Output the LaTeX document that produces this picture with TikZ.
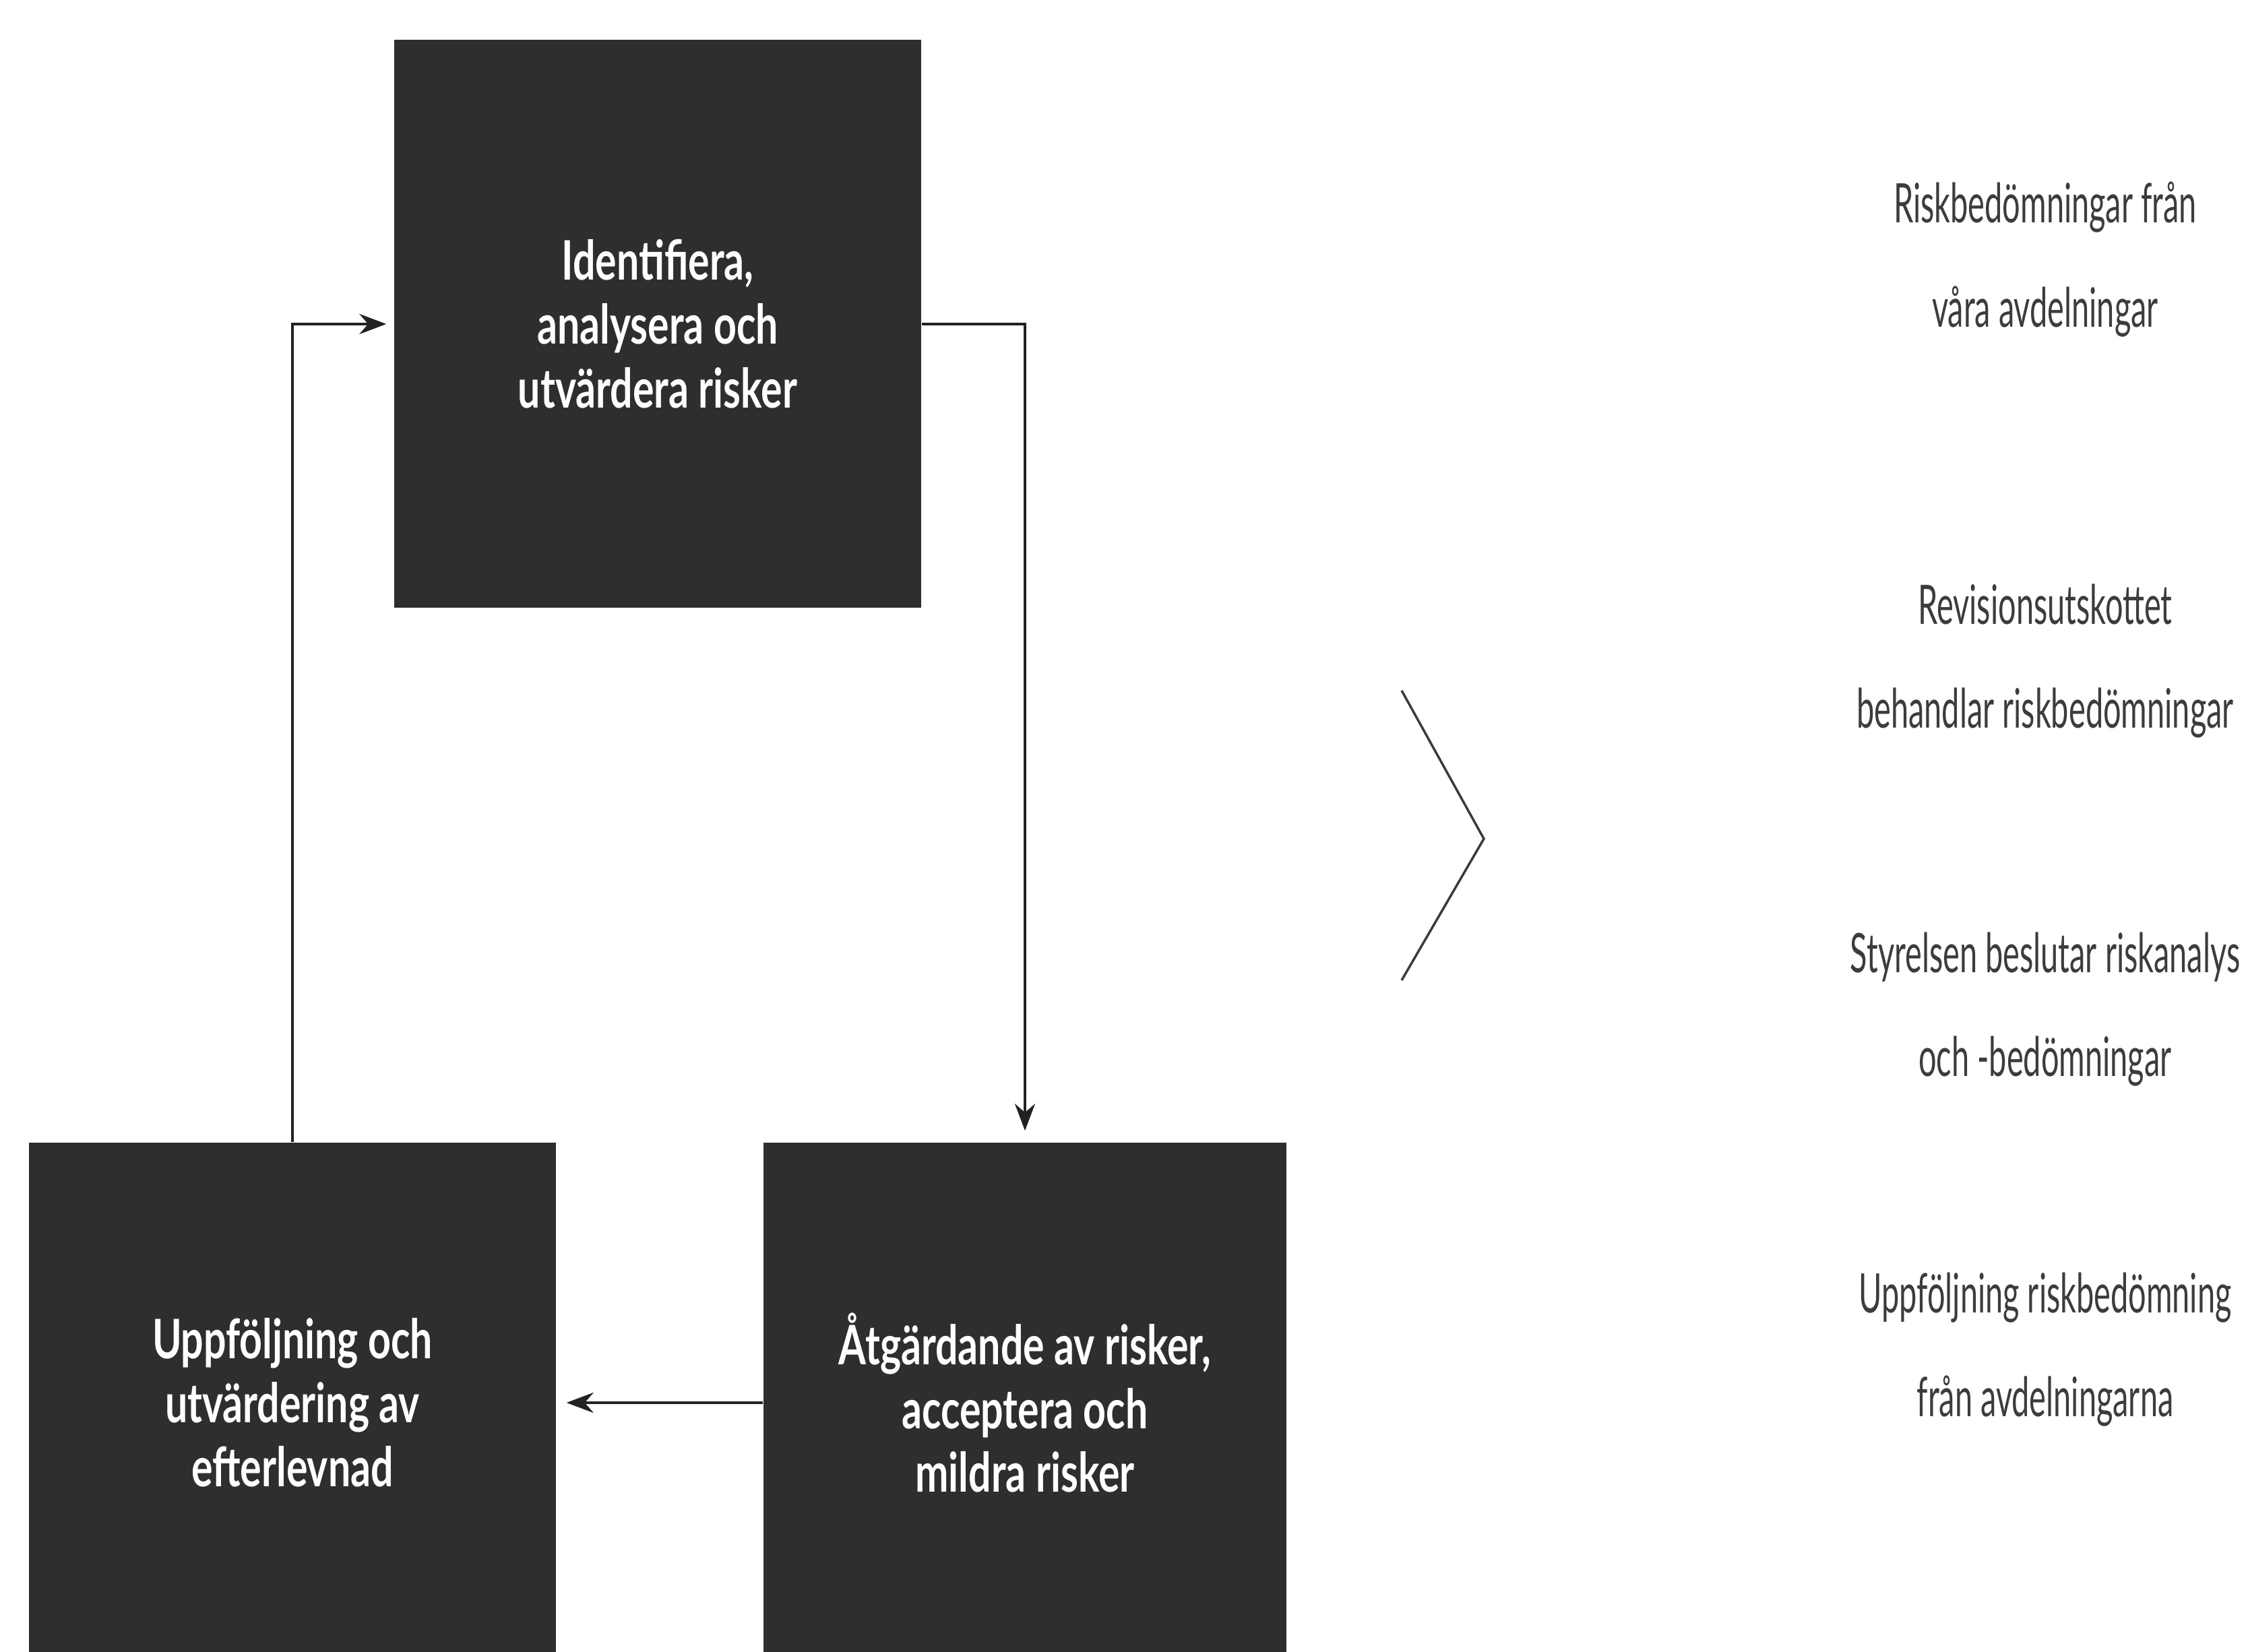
\documentclass[tikz,border=0pt]{standalone}
\usepackage{fontspec}
\usepackage{tikz}
\usetikzlibrary{arrows.meta,positioning}
\newfontfamily\boxfont[FakeStretch=0.73]{Lato}
\newfontfamily\sidefont[FakeStretch=0.58]{Lato}
\definecolor{boxgray}{HTML}{2E2E2E}
\definecolor{sidegray}{HTML}{3C3C3C}
\definecolor{flowline}{HTML}{222222}

\begin{document}
\begin{tikzpicture}[
    riskbox/.style={fill=boxgray, draw=none, text=white, align=center,
      font=\boxfont\bfseries\fontsize{23}{27}\selectfont, inner sep=0pt},
    sidetext/.style={text=sidegray, align=center,
      font=\sidefont\fontsize{23}{44}\selectfont},
    flow/.style={-{Stealth[length=4mm,width=3mm]}, line width=1.2pt, flowline}
  ]
    \useasboundingbox (0,0) rectangle (33.33,24.52);
    % the three steps of the cycle
    \node[riskbox, minimum width=7.82cm, minimum height=8.43cm] (ident) at (9.76,19.71)
      {Identifiera,\\analysera och\\utvärdera risker};
    \node[riskbox, minimum width=7.76cm, minimum height=7.72cm] (atgard) at (15.21,3.70)
      {Åtgärdande av risker,\\acceptera och\\mildra risker};
    \node[riskbox, minimum width=7.82cm, minimum height=7.72cm] (uppf) at (4.34,3.70)
      {Uppföljning och\\utvärdering av\\efterlevnad};
    \draw[flow, shorten >=0.17cm] (ident.east) -| (atgard.north);
    \draw[flow, shorten >=0.15cm] (atgard.west) -- (uppf.east);
    \draw[flow, shorten >=0.11cm] (uppf.north) |- (ident.west);
    % chevron
    \draw[sidegray, line width=1pt] (20.80,14.27) -- (22.02,12.07) -- (20.80,9.97);
    % who handles the risk assessments
    \node[sidetext] (side1) at (30.35,20.67) {Riskbedömningar från\\våra avdelningar};
    \node[sidetext] (side2) at (30.35,14.71) {Revisionsutskottet\\behandlar riskbedömningar};
    \node[sidetext] (side3) at (30.35,9.54) {Styrelsen beslutar riskanalys\\och -bedömningar};
    \node[sidetext] (side4) at (30.35,4.49) {Uppföljning riskbedömning\\från avdelningarna};
\end{tikzpicture}
\end{document}
